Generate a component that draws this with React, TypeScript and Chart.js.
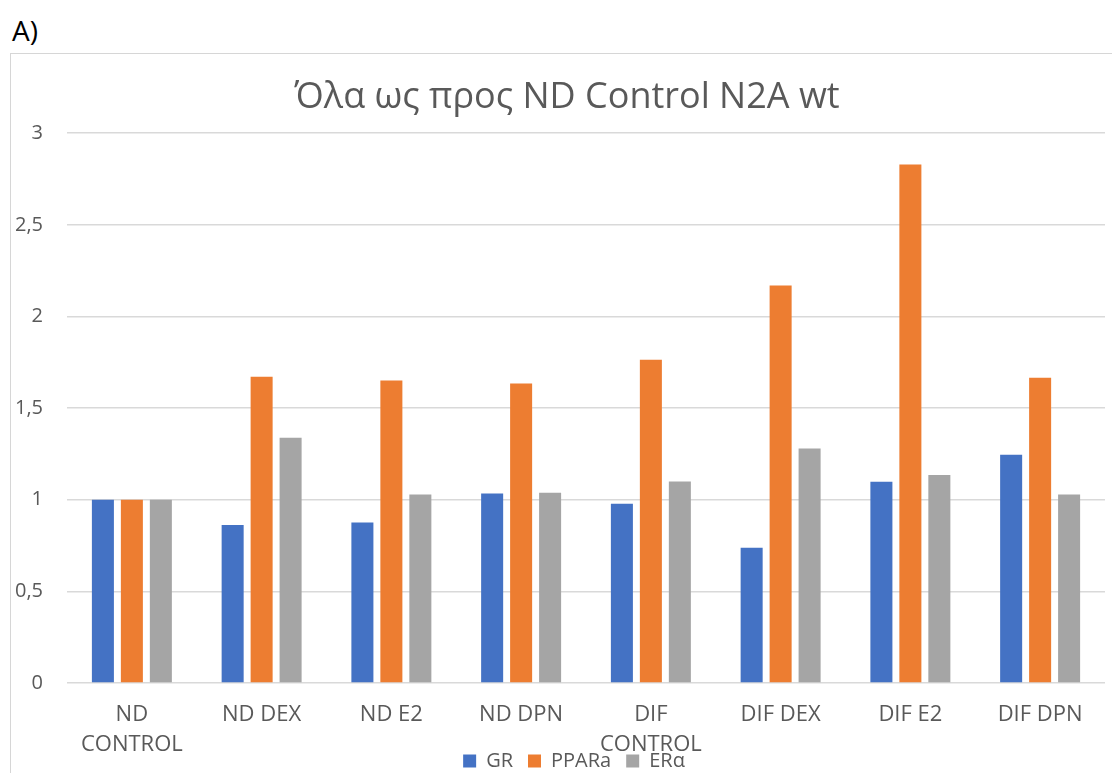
import React, { useEffect, useRef } from "react";
import { Chart, registerables } from "chart.js";

Chart.register(...registerables);

const categories: (string | string[])[] = [
  ["ND", "CONTROL"],
  "ND DEX",
  "ND E2",
  "ND DPN",
  ["DIF", "CONTROL"],
  "DIF DEX",
  "DIF E2",
  "DIF DPN",
];

const grValues = [1.0, 0.862, 0.876, 1.034, 0.978, 0.738, 1.098, 1.246];
const pparaValues = [1.0, 1.671, 1.651, 1.634, 1.764, 2.169, 2.829, 1.666];
const eraValues = [1.0, 1.338, 1.028, 1.038, 1.099, 1.279, 1.135, 1.028];

const yTicks = [0, 0.5, 1, 1.5, 2, 2.5, 3];

const FONT = "'Open Sans', 'DejaVu Sans', sans-serif";
const TEXT = "#595959";

const shiftBlocks = {
  id: "shiftBlocks",
  afterLayout(chart: any) {
    if (chart.titleBlock) {
      chart.titleBlock.left += 9;
      chart.titleBlock.right += 9;
    }
    if (chart.legend) {
      chart.legend.left += 16;
      chart.legend.right += 16;
    }
  },
};

export default function App() {
  const ref = useRef<HTMLCanvasElement | null>(null);

  useEffect(() => {
    if (!ref.current) return;
    const chart = new Chart(ref.current, {
      type: "bar",
      data: {
        labels: categories,
        datasets: [
          { label: "GR", data: grValues, backgroundColor: "#4472C4", borderWidth: 0 },
          { label: "PPARa", data: pparaValues, backgroundColor: "#ED7D31", borderWidth: 0 },
          { label: "ERα", data: eraValues, backgroundColor: "#A5A5A5", borderWidth: 0 },
        ],
      },
      plugins: [shiftBlocks],
      options: {
        responsive: false,
        animation: false,
        devicePixelRatio: 1,
        datasets: { bar: { categoryPercentage: 0.67, barPercentage: 0.76 } },
        layout: { padding: { left: 0, right: 26, top: 0, bottom: 0 } },
        plugins: {
          title: {
            display: true,
            text: "Όλα ως προς ND Control N2A wt",
            color: TEXT,
            font: { family: FONT, size: 36, weight: "normal", lineHeight: 1.2 },
            padding: { top: 22, bottom: 14 },
          },
          legend: {
            position: "bottom",
            labels: {
              color: TEXT,
              boxWidth: 13,
              boxHeight: 13,
              padding: 15,
              font: { family: FONT, size: 20 },
            },
          },
          tooltip: { enabled: false },
        },
        scales: {
          x: {
            grid: { display: false, drawTicks: false },
            border: { display: false },
            ticks: {
              color: TEXT,
              font: { family: FONT, size: 22, lineHeight: 1.36 },
              padding: 17,
              maxRotation: 0,
              autoSkip: false,
            },
            afterFit: (scale: any) => {
              scale.height = 53;
              scale._computeLabelArea = () => undefined;
            },
          },
          y: {
            min: 0,
            max: 3,
            afterBuildTicks: (scale: any) => {
              scale.ticks = yTicks.map((v) => ({ value: v }));
            },
            grid: { color: "#d9d9d9", lineWidth: 1.5, drawTicks: false },
            border: { display: false },
            ticks: {
              color: TEXT,
              font: { family: FONT, size: 20 },
              padding: 24,
              callback: (v: any) => String(v).replace(".", ","),
            },
            afterFit: (scale: any) => {
              scale.width = 56;
            },
          },
        },
      },
    });
    return () => chart.destroy();
  }, []);

  return (
    <div
      style={{
        position: "fixed",
        left: 0,
        top: 0,
        width: 1112,
        height: 773,
        overflow: "hidden",
        background: "#ffffff",
      }}
    >
      <div
        style={{
          position: "absolute",
          left: 12,
          top: 16,
          fontFamily: FONT,
          fontSize: 28,
          color: "#000000",
          lineHeight: "28px",
        }}
      >
        A)
      </div>
      <div
        style={{
          position: "absolute",
          left: 10,
          top: 53,
          width: 1130,
          height: 760,
          border: "1px solid #d6d6d6",
          boxSizing: "border-box",
        }}
      />
      <canvas
        ref={ref}
        width={1120}
        height={727}
        style={{ position: "absolute", left: 11, top: 54, width: 1120, height: 727 }}
      />
    </div>
  );
}
